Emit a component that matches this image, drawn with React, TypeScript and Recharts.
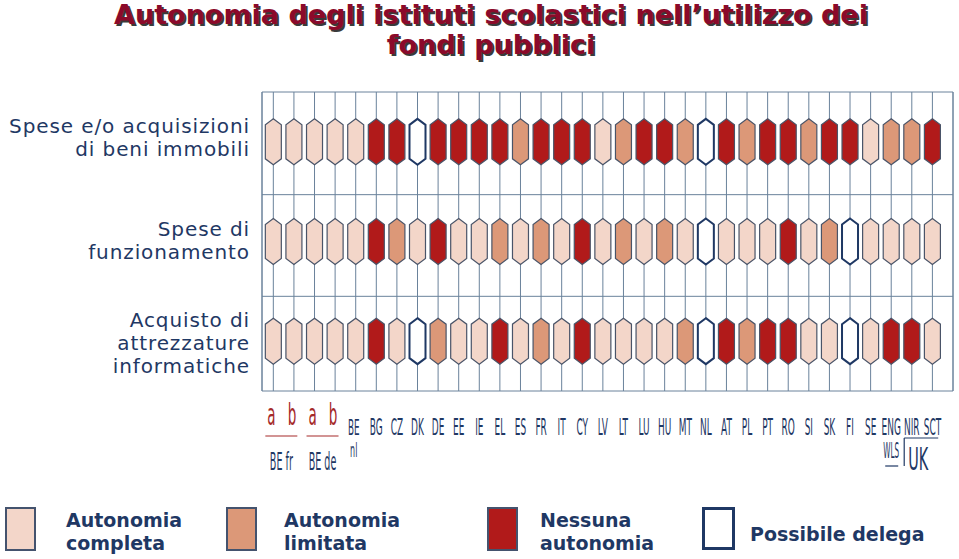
import React from 'react';
import { ScatterChart, Scatter, XAxis, YAxis, CartesianGrid, ReferenceLine } from 'recharts';

// C = autonomia completa, L = limitata, N = nessuna, D = possibile delega
const countries = ['a', 'b', 'a', 'b', 'BE', 'BG', 'CZ', 'DK', 'DE', 'EE', 'IE', 'EL', 'ES', 'FR', 'IT', 'CY',
  'LV', 'LT', 'LU', 'HU', 'MT', 'NL', 'AT', 'PL', 'PT', 'RO', 'SI', 'SK', 'FI', 'SE', 'ENG', 'NIR', 'SCT'];

const rowLabels = [
  ['Spese e/o acquisizioni', 'di beni immobili'],
  ['Spese di', 'funzionamento'],
  ['Acquisto di', 'attrezzature', 'informatiche'],
];

const beniImmobili = ['C', 'C', 'C', 'C', 'C', 'N', 'N', 'D', 'N', 'N', 'N', 'N', 'L', 'N', 'N', 'N', 'C',
  'L', 'N', 'N', 'L', 'D', 'N', 'L', 'N', 'N', 'L', 'N', 'N', 'C', 'L', 'L', 'N'];
const funzionamento = ['C', 'C', 'C', 'C', 'C', 'N', 'L', 'C', 'N', 'C', 'C', 'L', 'C', 'L', 'C', 'N', 'C',
  'L', 'C', 'L', 'C', 'D', 'C', 'C', 'C', 'N', 'C', 'L', 'D', 'C', 'C', 'C', 'C'];
const informatiche = ['C', 'C', 'C', 'C', 'C', 'N', 'C', 'D', 'L', 'C', 'C', 'N', 'C', 'L', 'C', 'N', 'C',
  'C', 'C', 'C', 'L', 'D', 'N', 'L', 'N', 'N', 'C', 'C', 'D', 'C', 'N', 'N', 'C'];

const rowBounds = [-0.5, 0.53, 1.55, 2.5];

const legendItems = [
  { code: 'C', label: ['Autonomia', 'completa'] },
  { code: 'L', label: ['Autonomia', 'limitata'] },
  { code: 'N', label: ['Nessuna', 'autonomia'] },
  { code: 'D', label: ['Possibile delega'] },
];

const FILL: Record<string, string> = { C: '#f3d6c9', L: '#dc9878', N: '#b11a1a', D: '#ffffff' };
const NAVY = '#1f3864';
const GRID = '#6a829b';

const data = [beniImmobili, funzionamento, informatiche].flatMap((row, r) =>
  row.map((v, i) => ({ x: i, y: r, v })));

const Hexagon = (props: any) => {
  const { cx, cy, payload } = props;
  const w = 8, h = 23, s = 6;
  const pts = [
    [cx, cy - h], [cx + w, cy - h + s], [cx + w, cy + h - s],
    [cx, cy + h], [cx - w, cy + h - s], [cx - w, cy - h + s],
  ].map(p => p.join(',')).join(' ');
  const hollow = payload.v === 'D';
  return (
    <polygon points={pts} fill={FILL[payload.v]} stroke={hollow ? NAVY : '#4a5468'}
      strokeWidth={hollow ? 2 : 1.2} />
  );
};

const narrow = (x: number, y: number, txt: string, size: number, color = NAVY, k = 0.4) => (
  <text transform={`translate(${x},${y}) scale(${k},1)`} textAnchor="middle" fontSize={size}
    fontFamily="DejaVu Sans" fill={color}>{txt}</text>
);

const CountryTick = (props: any) => {
  const { x, y, payload } = props;
  const i = payload.value;
  const code = countries[i];
  if (code === undefined) return null;
  if (i < 4) {
    const pair = i % 2 === 0;
    return (
      <g>
        {narrow(x - 2, y + 34, code, 30, '#a52a2a', 0.45)}
        {pair && <line x1={x - 8} x2={x + 24} y1={y + 45} y2={y + 45} stroke="#a52a2a" strokeWidth={1.2} />}
        {pair && narrow(x + 8, y + 79, i === 0 ? 'BE fr' : 'BE de', 24)}
      </g>
    );
  }
  if (code === 'BE') {
    return (
      <g>
        {narrow(x - 2, y + 44, 'BE', 22)}
        {narrow(x - 2, y + 66, 'nl', 20)}
      </g>
    );
  }
  return (
    <g>
      {narrow(x, y + 44, code, 23, NAVY, 0.39)}
      {code === 'ENG' && (
        <g>
          {narrow(x, y + 67, 'WLS', 22, NAVY, 0.33)}
          <line x1={x - 6} x2={x + 7} y1={y + 75} y2={y + 75} stroke={NAVY} strokeWidth={1.2} />
          <line x1={x + 13} x2={x + 13} y1={y + 47} y2={y + 75} stroke={NAVY} strokeWidth={1.2} />
          <line x1={x + 13} x2={x + 47} y1={y + 47} y2={y + 47} stroke={NAVY} strokeWidth={1.2} />
          {narrow(x + 27, y + 79, 'UK', 32, NAVY, 0.45)}
        </g>
      )}
    </g>
  );
};

const RowTick = (props: any) => {
  const { y, payload } = props;
  const r = payload.value;
  const lines = rowLabels[r];
  if (!lines) return null;
  return (
    <text textAnchor="end" fontSize={20} fontFamily="DejaVu Sans" fill={NAVY} letterSpacing={0.9}>
      {lines.map((l, k) => (
        <tspan key={k} x={250} y={y + (k - (lines.length - 1) / 2) * 23 + 6 + (r - 1) * 3}>{l}</tspan>
      ))}
    </text>
  );
};

export default function App() {
  return (
    <div style={{ position: 'absolute', left: 0, top: 0, width: 959, height: 559, background: '#fff' }}>
      <div style={{
        position: 'absolute', left: 0, top: 0, width: 982, textAlign: 'center',
        fontFamily: 'DejaVu Sans', fontWeight: 'bold', fontSize: 27, lineHeight: '30px',
        color: '#8b0a2a', textShadow: '2px 2px 0 #3a3a3a',
      }}>
        Autonomia degli istituti scolastici nell’utilizzo dei<br />fondi pubblici
      </div>
      <ScatterChart width={959} height={559} margin={{ top: 92, right: 6, bottom: 68, left: 0 }}>
        <CartesianGrid horizontal={false} stroke={GRID} strokeWidth={1} />
        <XAxis type="number" dataKey="x" domain={[-0.55, 33]} ticks={countries.map((_, i) => i)}
          axisLine={false} tickLine={false} tickSize={0} tickMargin={0} height={100}
          tick={<CountryTick />} interval={0} />
        <YAxis type="number" dataKey="y" domain={[-0.5, 2.5]} reversed ticks={[0, 1, 2]}
          axisLine={false} tickLine={false} width={262} tick={<RowTick />} />
        <ReferenceLine x={-0.55} stroke={GRID} />
        <ReferenceLine x={33} stroke={GRID} />
        {rowBounds.map(b => <ReferenceLine key={b} y={b} stroke={GRID} />)}
        <Scatter data={data} shape={<Hexagon />} isAnimationActive={false} />
      </ScatterChart>
      {legendItems.map((it, k) => {
        const boxX = [5, 226, 487, 702][k];
        const txtX = [66, 284, 540, 750][k];
        const hollow = it.code === 'D';
        return (
          <React.Fragment key={it.code}>
            <div style={{
              position: 'absolute', left: boxX, top: 507, width: 27, height: hollow ? 37 : 40,
              background: FILL[it.code], border: `${hollow ? 3 : 2}px solid ${hollow ? NAVY : '#44536e'}`,
            }} />
            <div style={{
              position: 'absolute', left: txtX, top: hollow ? 523 : 509, fontFamily: 'DejaVu Sans',
              fontWeight: 'bold', fontSize: 19, lineHeight: '23px', color: NAVY,
            }}>
              {it.label.map((l, j) => <div key={j}>{l}</div>)}
            </div>
          </React.Fragment>
        );
      })}
    </div>
  );
}
